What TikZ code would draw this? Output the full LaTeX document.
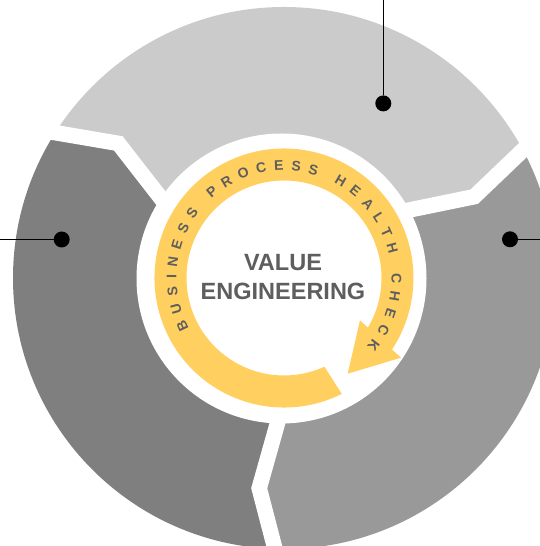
\documentclass[tikz,border=0pt]{standalone}
\usepackage{fontspec}
\setmainfont{Liberation Sans}
\usetikzlibrary{decorations.text}
\definecolor{segtop}{HTML}{CBCBCB}
\definecolor{segleft}{HTML}{7F7F7F}
\definecolor{segright}{HTML}{999999}
\definecolor{ringyellow}{HTML}{FFD05F}
\definecolor{labelgray}{HTML}{5E5E5E}

\begin{document}
\begin{tikzpicture}[x=1pt, y=1pt,
        gapline/.style={white, line width=15.5pt, line join=miter},
        bullet/.style={circle, fill=black, inner sep=0pt, minimum size=16pt},
        leader/.style={line width=1.5pt},
        title/.style={labelgray, font=\bfseries\fontsize{23.5}{28}\selectfont, anchor=base}]
        \useasboundingbox (0,0) rectangle (540,546);
        \coordinate (c) at (284,268);
        \coordinate (hub) at (281.5,267.5);

        % Gaps: outer end, kink, inner end
        \coordinate (lg0) at (-5,423.6);
        \coordinate (lg1) at (118.3,402.6);
        \coordinate (lg2) at (181,322);
        \coordinate (rg0) at (568,439);
        \coordinate (rg1) at (474.2,349.3);
        \coordinate (rg2) at (385,331);
        \coordinate (bg0) at (278.4,-16);
        \coordinate (bg1) at (259.2,57.8);
        \coordinate (bg2) at (284,146);

        % Segments
        \begin{scope}
            \clip (c) circle (271);
            \fill[segtop] (c) -- (lg2) -- (lg1) -- (lg0) -- (-5,560) -- (580,560) -- (rg0) -- (rg1) -- (rg2) -- cycle;
            \fill[segleft] (c) -- (lg2) -- (lg1) -- (lg0) -- (-5,-20) -- (bg0) -- (bg1) -- (bg2) -- cycle;
            \fill[segright] (c) -- (bg2) -- (bg1) -- (bg0) -- (580,-20) -- (580,439) -- (rg0) -- (rg1) -- (rg2) -- cycle;
        \end{scope}
        \fill[white] (hub) circle (145);
        \draw[gapline] (lg0) -- (lg1) -- (lg2);
        \draw[gapline] (rg0) -- (rg1) -- (rg2);
        \draw[gapline] (bg0) -- (bg1) -- (bg2);

        % Yellow arrow with its lettering
        \begin{scope}[shift={(c)}]
            \fill[ringyellow] (-63.5:129.5) arc[start angle=-63.5, end angle=-393.5, radius=129.5]
                -- (117,-79.7) -- (63.7,-95.7) -- (76,-42.3)
                -- (-390.6:97.5) arc[start angle=-390.6, end angle=-65.5, radius=97.5] -- cycle;
            \path[decorate, decoration={text along path, text align=fit to path, text color=labelgray,
                    text={|\bfseries\fontsize{14}{14}\selectfont|BUSINESS PROCESS HEALTH CHECK}}]
                (208:107.5) arc[start angle=208, end angle=-39.7, radius=107.5];
        \end{scope}

        \node[title] (value) at (283,275.3) {VALUE};
        \node[title] (engineering) at (283,246.7) {ENGINEERING};

        % Pins
        \node[bullet] (toppin) at (383.3,442.6) {};
        \node[bullet] (leftpin) at (61.7,306.5) {};
        \node[bullet] (rightpin) at (510,306.7) {};
        \coordinate (topend) at (383.3,546);
        \coordinate (leftend) at (0,306.5);
        \coordinate (rightend) at (540,306.7);
        \draw[leader] (toppin) -- (topend);
        \draw[leader] (leftpin) -- (leftend);
        \draw[leader] (rightpin) -- (rightend);
\end{tikzpicture}
\end{document}
